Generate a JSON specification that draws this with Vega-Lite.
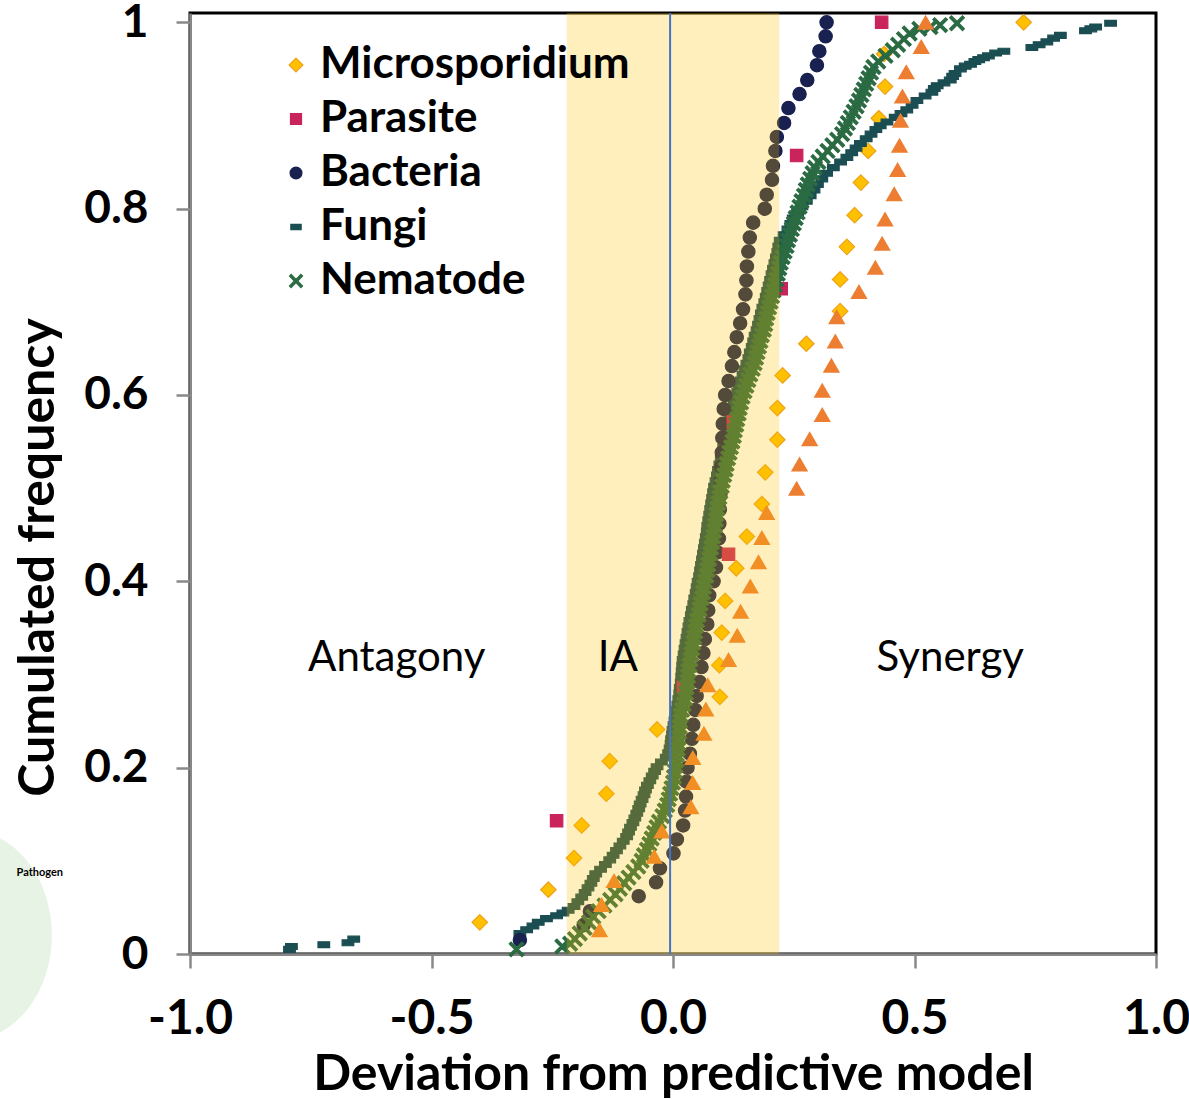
{
  "$schema": "https://vega.github.io/schema/vega-lite/v6.json",
  "width": 966,
  "height": 941,
  "autosize": {"type": "none"},
  "padding": {"left": 190, "top": 13, "right": 33, "bottom": 145},
  "background": "white",
  "config": {
    "font": "Lato",
    "view": {"stroke": "black", "strokeWidth": 3},
    "axis": {"grid": false, "domainColor": "#898989", "domainWidth": 2.5, "tickColor": "#898989", "tickWidth": 2.5, "tickSize": 14, "labelColor": "black", "labelFontWeight": "bold", "labelFontSize": 48, "titleColor": "black", "titleFontWeight": "bold", "titleFontSize": 50},
    "legend": {"orient": "none", "legendX": 84, "legendY": 30, "padding": 0, "labelFontSize": 44, "labelFontWeight": "bold", "labelColor": "black", "labelLimit": 0, "symbolSize": 190, "rowPadding": 10, "labelOffset": 2, "symbolStrokeWidth": 1.2}
  },
  "layer": [
    {
      "data": {"values": [{"x": -1.46, "y": 0.02}]},
      "mark": {"type": "point", "shape": "M-0.8,0A0.8,1 0 1,0 0.8,0A0.8,1 0 1,0 -0.8,0Z", "filled": true, "size": 44100, "color": "#E7F3E5", "opacity": 1},
      "encoding": {"x": {"field": "x", "type": "quantitative"}, "y": {"field": "y", "type": "quantitative"}}
    },
    {
      "data": {"values": [{"t": "Pathogen", "x": -1.311, "y": 0.0872}]},
      "mark": {"type": "text", "fontSize": 11, "fontWeight": "bold", "color": "black", "align": "center", "baseline": "middle"},
      "encoding": {"x": {"field": "x", "type": "quantitative"}, "y": {"field": "y", "type": "quantitative"}, "text": {"field": "t"}}
    },
    {
      "data": {"values": [
        {"s":"Microsporidium","x":-0.400,"y":0.034},{"s":"Microsporidium","x":-0.258,"y":0.069},{"s":"Microsporidium","x":-0.205,"y":0.103},{"s":"Microsporidium","x":-0.189,"y":0.138},{"s":"Microsporidium","x":-0.138,"y":0.172},{"s":"Microsporidium","x":-0.131,"y":0.207},{"s":"Microsporidium","x":-0.033,"y":0.241},{"s":"Microsporidium","x":0.097,"y":0.276},{"s":"Microsporidium","x":0.096,"y":0.310},{"s":"Microsporidium","x":0.101,"y":0.345},{"s":"Microsporidium","x":0.108,"y":0.379},{"s":"Microsporidium","x":0.131,"y":0.414},{"s":"Microsporidium","x":0.153,"y":0.448},{"s":"Microsporidium","x":0.184,"y":0.483},{"s":"Microsporidium","x":0.191,"y":0.517},{"s":"Microsporidium","x":0.216,"y":0.552},{"s":"Microsporidium","x":0.216,"y":0.586},{"s":"Microsporidium","x":0.227,"y":0.621},{"s":"Microsporidium","x":0.276,"y":0.655},{"s":"Microsporidium","x":0.346,"y":0.690},{"s":"Microsporidium","x":0.346,"y":0.724},{"s":"Microsporidium","x":0.360,"y":0.759},{"s":"Microsporidium","x":0.376,"y":0.793},{"s":"Microsporidium","x":0.389,"y":0.828},{"s":"Microsporidium","x":0.404,"y":0.862},{"s":"Microsporidium","x":0.426,"y":0.897},{"s":"Microsporidium","x":0.439,"y":0.931},{"s":"Microsporidium","x":0.437,"y":0.966},{"s":"Microsporidium","x":0.726,"y":1.0},
        {"s":"Fungi","x":-0.794,"y":0.005},{"s":"Fungi","x":-0.790,"y":0.008},{"s":"Fungi","x":-0.723,"y":0.010},{"s":"Fungi","x":-0.673,"y":0.012},{"s":"Fungi","x":-0.661,"y":0.016},{"s":"Fungi","x":-0.317,"y":0.022},{"s":"Fungi","x":-0.303,"y":0.026},{"s":"Fungi","x":-0.290,"y":0.030},{"s":"Fungi","x":-0.279,"y":0.034},{"s":"Fungi","x":-0.262,"y":0.038},{"s":"Fungi","x":-0.241,"y":0.041},{"s":"Fungi","x":-0.228,"y":0.044},{"s":"Fungi","x":-0.217,"y":0.047},{"s":"Fungi","x":-0.205,"y":0.051},{"s":"Fungi","x":-0.197,"y":0.056},{"s":"Fungi","x":-0.189,"y":0.061},{"s":"Fungi","x":-0.182,"y":0.066},{"s":"Fungi","x":-0.176,"y":0.071},{"s":"Fungi","x":-0.170,"y":0.076},{"s":"Fungi","x":-0.165,"y":0.081},{"s":"Fungi","x":-0.160,"y":0.086},{"s":"Fungi","x":-0.150,"y":0.091},{"s":"Fungi","x":-0.140,"y":0.096},{"s":"Fungi","x":-0.131,"y":0.101},{"s":"Fungi","x":-0.124,"y":0.106},{"s":"Fungi","x":-0.117,"y":0.111},{"s":"Fungi","x":-0.110,"y":0.116},{"s":"Fungi","x":-0.103,"y":0.121},{"s":"Fungi","x":-0.096,"y":0.126},{"s":"Fungi","x":-0.092,"y":0.131},{"s":"Fungi","x":-0.088,"y":0.136},{"s":"Fungi","x":-0.083,"y":0.141},{"s":"Fungi","x":-0.079,"y":0.146},{"s":"Fungi","x":-0.075,"y":0.151},{"s":"Fungi","x":-0.071,"y":0.156},{"s":"Fungi","x":-0.068,"y":0.161},{"s":"Fungi","x":-0.064,"y":0.166},{"s":"Fungi","x":-0.060,"y":0.171},{"s":"Fungi","x":-0.057,"y":0.176},{"s":"Fungi","x":-0.053,"y":0.181},{"s":"Fungi","x":-0.048,"y":0.186},{"s":"Fungi","x":-0.043,"y":0.191},{"s":"Fungi","x":-0.038,"y":0.196},{"s":"Fungi","x":-0.033,"y":0.201},{"s":"Fungi","x":-0.024,"y":0.206},{"s":"Fungi","x":-0.014,"y":0.211},{"s":"Fungi","x":-0.009,"y":0.216},{"s":"Fungi","x":-0.006,"y":0.221},{"s":"Fungi","x":-0.004,"y":0.226},{"s":"Fungi","x":-0.003,"y":0.231},{"s":"Fungi","x":-0.001,"y":0.236},{"s":"Fungi","x":0.000,"y":0.241},{"s":"Fungi","x":0.002,"y":0.246},{"s":"Fungi","x":0.004,"y":0.251},{"s":"Fungi","x":0.006,"y":0.256},{"s":"Fungi","x":0.008,"y":0.262},{"s":"Fungi","x":0.010,"y":0.268},{"s":"Fungi","x":0.012,"y":0.274},{"s":"Fungi","x":0.014,"y":0.280},{"s":"Fungi","x":0.015,"y":0.286},{"s":"Fungi","x":0.017,"y":0.292},{"s":"Fungi","x":0.018,"y":0.298},{"s":"Fungi","x":0.019,"y":0.304},{"s":"Fungi","x":0.020,"y":0.310},{"s":"Fungi","x":0.021,"y":0.316},{"s":"Fungi","x":0.023,"y":0.322},{"s":"Fungi","x":0.025,"y":0.328},{"s":"Fungi","x":0.027,"y":0.334},{"s":"Fungi","x":0.029,"y":0.340},{"s":"Fungi","x":0.031,"y":0.346},{"s":"Fungi","x":0.033,"y":0.352},{"s":"Fungi","x":0.035,"y":0.358},{"s":"Fungi","x":0.038,"y":0.364},{"s":"Fungi","x":0.040,"y":0.370},{"s":"Fungi","x":0.043,"y":0.376},{"s":"Fungi","x":0.045,"y":0.382},{"s":"Fungi","x":0.048,"y":0.388},{"s":"Fungi","x":0.050,"y":0.394},{"s":"Fungi","x":0.052,"y":0.400},{"s":"Fungi","x":0.055,"y":0.406},{"s":"Fungi","x":0.057,"y":0.412},{"s":"Fungi","x":0.059,"y":0.418},{"s":"Fungi","x":0.061,"y":0.424},{"s":"Fungi","x":0.063,"y":0.430},{"s":"Fungi","x":0.065,"y":0.436},{"s":"Fungi","x":0.067,"y":0.442},{"s":"Fungi","x":0.069,"y":0.448},{"s":"Fungi","x":0.071,"y":0.454},{"s":"Fungi","x":0.072,"y":0.460},{"s":"Fungi","x":0.074,"y":0.466},{"s":"Fungi","x":0.076,"y":0.472},{"s":"Fungi","x":0.078,"y":0.478},{"s":"Fungi","x":0.080,"y":0.484},{"s":"Fungi","x":0.082,"y":0.490},{"s":"Fungi","x":0.084,"y":0.496},{"s":"Fungi","x":0.086,"y":0.502},{"s":"Fungi","x":0.089,"y":0.508},{"s":"Fungi","x":0.092,"y":0.514},{"s":"Fungi","x":0.094,"y":0.520},{"s":"Fungi","x":0.097,"y":0.526},{"s":"Fungi","x":0.100,"y":0.532},{"s":"Fungi","x":0.102,"y":0.538},{"s":"Fungi","x":0.105,"y":0.544},{"s":"Fungi","x":0.108,"y":0.550},{"s":"Fungi","x":0.111,"y":0.556},{"s":"Fungi","x":0.114,"y":0.562},{"s":"Fungi","x":0.116,"y":0.568},{"s":"Fungi","x":0.119,"y":0.574},{"s":"Fungi","x":0.122,"y":0.580},{"s":"Fungi","x":0.124,"y":0.586},{"s":"Fungi","x":0.127,"y":0.592},{"s":"Fungi","x":0.130,"y":0.598},{"s":"Fungi","x":0.134,"y":0.604},{"s":"Fungi","x":0.137,"y":0.610},{"s":"Fungi","x":0.141,"y":0.616},{"s":"Fungi","x":0.145,"y":0.622},{"s":"Fungi","x":0.149,"y":0.628},{"s":"Fungi","x":0.153,"y":0.634},{"s":"Fungi","x":0.157,"y":0.640},{"s":"Fungi","x":0.160,"y":0.646},{"s":"Fungi","x":0.164,"y":0.652},{"s":"Fungi","x":0.167,"y":0.658},{"s":"Fungi","x":0.170,"y":0.664},{"s":"Fungi","x":0.174,"y":0.670},{"s":"Fungi","x":0.177,"y":0.676},{"s":"Fungi","x":0.180,"y":0.682},{"s":"Fungi","x":0.183,"y":0.688},{"s":"Fungi","x":0.186,"y":0.694},{"s":"Fungi","x":0.190,"y":0.700},{"s":"Fungi","x":0.193,"y":0.706},{"s":"Fungi","x":0.196,"y":0.712},{"s":"Fungi","x":0.199,"y":0.718},{"s":"Fungi","x":0.202,"y":0.724},{"s":"Fungi","x":0.205,"y":0.730},{"s":"Fungi","x":0.208,"y":0.736},{"s":"Fungi","x":0.211,"y":0.742},{"s":"Fungi","x":0.214,"y":0.748},{"s":"Fungi","x":0.217,"y":0.754},{"s":"Fungi","x":0.219,"y":0.760},{"s":"Fungi","x":0.222,"y":0.766},{"s":"Fungi","x":0.230,"y":0.772},{"s":"Fungi","x":0.238,"y":0.778},{"s":"Fungi","x":0.244,"y":0.784},{"s":"Fungi","x":0.249,"y":0.790},{"s":"Fungi","x":0.258,"y":0.796},{"s":"Fungi","x":0.267,"y":0.802},{"s":"Fungi","x":0.276,"y":0.808},{"s":"Fungi","x":0.284,"y":0.814},{"s":"Fungi","x":0.292,"y":0.820},{"s":"Fungi","x":0.299,"y":0.826},{"s":"Fungi","x":0.308,"y":0.832},{"s":"Fungi","x":0.318,"y":0.838},{"s":"Fungi","x":0.332,"y":0.844},{"s":"Fungi","x":0.347,"y":0.850},{"s":"Fungi","x":0.360,"y":0.855},{"s":"Fungi","x":0.370,"y":0.860},{"s":"Fungi","x":0.379,"y":0.865},{"s":"Fungi","x":0.388,"y":0.870},{"s":"Fungi","x":0.400,"y":0.875},{"s":"Fungi","x":0.410,"y":0.880},{"s":"Fungi","x":0.420,"y":0.885},{"s":"Fungi","x":0.429,"y":0.889},{"s":"Fungi","x":0.443,"y":0.893},{"s":"Fungi","x":0.460,"y":0.898},{"s":"Fungi","x":0.472,"y":0.902},{"s":"Fungi","x":0.484,"y":0.906},{"s":"Fungi","x":0.495,"y":0.911},{"s":"Fungi","x":0.505,"y":0.916},{"s":"Fungi","x":0.522,"y":0.921},{"s":"Fungi","x":0.536,"y":0.925},{"s":"Fungi","x":0.541,"y":0.929},{"s":"Fungi","x":0.547,"y":0.932},{"s":"Fungi","x":0.561,"y":0.935},{"s":"Fungi","x":0.574,"y":0.938},{"s":"Fungi","x":0.579,"y":0.942},{"s":"Fungi","x":0.584,"y":0.945},{"s":"Fungi","x":0.595,"y":0.950},{"s":"Fungi","x":0.605,"y":0.953},{"s":"Fungi","x":0.616,"y":0.955},{"s":"Fungi","x":0.625,"y":0.958},{"s":"Fungi","x":0.633,"y":0.960},{"s":"Fungi","x":0.643,"y":0.962},{"s":"Fungi","x":0.653,"y":0.964},{"s":"Fungi","x":0.668,"y":0.967},{"s":"Fungi","x":0.685,"y":0.969},{"s":"Fungi","x":0.743,"y":0.973},{"s":"Fungi","x":0.758,"y":0.976},{"s":"Fungi","x":0.774,"y":0.979},{"s":"Fungi","x":0.788,"y":0.983},{"s":"Fungi","x":0.802,"y":0.986},{"s":"Fungi","x":0.854,"y":0.991},{"s":"Fungi","x":0.865,"y":0.993},{"s":"Fungi","x":0.875,"y":0.995},{"s":"Fungi","x":0.906,"y":0.999},
        {"s":"Bacteria","x":-0.317,"y":0.015},{"s":"Bacteria","x":-0.185,"y":0.031},{"s":"Bacteria","x":-0.172,"y":0.046},{"s":"Bacteria","x":-0.071,"y":0.062},{"s":"Bacteria","x":-0.035,"y":0.077},{"s":"Bacteria","x":-0.027,"y":0.092},{"s":"Bacteria","x":0.001,"y":0.108},{"s":"Bacteria","x":0.008,"y":0.123},{"s":"Bacteria","x":0.021,"y":0.138},{"s":"Bacteria","x":0.025,"y":0.154},{"s":"Bacteria","x":0.027,"y":0.169},{"s":"Bacteria","x":0.028,"y":0.185},{"s":"Bacteria","x":0.030,"y":0.200},{"s":"Bacteria","x":0.035,"y":0.215},{"s":"Bacteria","x":0.039,"y":0.231},{"s":"Bacteria","x":0.042,"y":0.246},{"s":"Bacteria","x":0.046,"y":0.262},{"s":"Bacteria","x":0.049,"y":0.277},{"s":"Bacteria","x":0.055,"y":0.292},{"s":"Bacteria","x":0.059,"y":0.308},{"s":"Bacteria","x":0.063,"y":0.323},{"s":"Bacteria","x":0.066,"y":0.338},{"s":"Bacteria","x":0.071,"y":0.354},{"s":"Bacteria","x":0.073,"y":0.369},{"s":"Bacteria","x":0.075,"y":0.385},{"s":"Bacteria","x":0.084,"y":0.400},{"s":"Bacteria","x":0.089,"y":0.415},{"s":"Bacteria","x":0.092,"y":0.431},{"s":"Bacteria","x":0.095,"y":0.446},{"s":"Bacteria","x":0.096,"y":0.462},{"s":"Bacteria","x":0.097,"y":0.477},{"s":"Bacteria","x":0.098,"y":0.492},{"s":"Bacteria","x":0.099,"y":0.508},{"s":"Bacteria","x":0.100,"y":0.523},{"s":"Bacteria","x":0.101,"y":0.538},{"s":"Bacteria","x":0.102,"y":0.554},{"s":"Bacteria","x":0.103,"y":0.569},{"s":"Bacteria","x":0.105,"y":0.585},{"s":"Bacteria","x":0.108,"y":0.600},{"s":"Bacteria","x":0.115,"y":0.615},{"s":"Bacteria","x":0.122,"y":0.631},{"s":"Bacteria","x":0.127,"y":0.646},{"s":"Bacteria","x":0.132,"y":0.662},{"s":"Bacteria","x":0.139,"y":0.677},{"s":"Bacteria","x":0.145,"y":0.692},{"s":"Bacteria","x":0.150,"y":0.708},{"s":"Bacteria","x":0.152,"y":0.723},{"s":"Bacteria","x":0.153,"y":0.738},{"s":"Bacteria","x":0.156,"y":0.754},{"s":"Bacteria","x":0.159,"y":0.769},{"s":"Bacteria","x":0.166,"y":0.785},{"s":"Bacteria","x":0.190,"y":0.800},{"s":"Bacteria","x":0.194,"y":0.815},{"s":"Bacteria","x":0.205,"y":0.831},{"s":"Bacteria","x":0.207,"y":0.846},{"s":"Bacteria","x":0.212,"y":0.862},{"s":"Bacteria","x":0.215,"y":0.877},{"s":"Bacteria","x":0.230,"y":0.892},{"s":"Bacteria","x":0.239,"y":0.908},{"s":"Bacteria","x":0.262,"y":0.923},{"s":"Bacteria","x":0.278,"y":0.938},{"s":"Bacteria","x":0.298,"y":0.954},{"s":"Bacteria","x":0.303,"y":0.969},{"s":"Bacteria","x":0.316,"y":0.985},{"s":"Bacteria","x":0.318,"y":1.0},
        {"s":"Parasite","x":-0.241,"y":0.143},{"s":"Parasite","x":0.022,"y":0.286},{"s":"Parasite","x":0.115,"y":0.429},{"s":"Parasite","x":0.125,"y":0.571},{"s":"Parasite","x":0.224,"y":0.714},{"s":"Parasite","x":0.256,"y":0.857},{"s":"Parasite","x":0.432,"y":1.0},
        {"s":"Nematode","x":-0.324,"y":0.005},{"s":"Nematode","x":-0.229,"y":0.008},{"s":"Nematode","x":-0.213,"y":0.011},{"s":"Nematode","x":-0.203,"y":0.016},{"s":"Nematode","x":-0.193,"y":0.022},{"s":"Nematode","x":-0.183,"y":0.028},{"s":"Nematode","x":-0.174,"y":0.034},{"s":"Nematode","x":-0.165,"y":0.040},{"s":"Nematode","x":-0.154,"y":0.046},{"s":"Nematode","x":-0.142,"y":0.052},{"s":"Nematode","x":-0.130,"y":0.058},{"s":"Nematode","x":-0.119,"y":0.064},{"s":"Nematode","x":-0.110,"y":0.070},{"s":"Nematode","x":-0.101,"y":0.076},{"s":"Nematode","x":-0.092,"y":0.082},{"s":"Nematode","x":-0.082,"y":0.088},{"s":"Nematode","x":-0.072,"y":0.094},{"s":"Nematode","x":-0.065,"y":0.100},{"s":"Nematode","x":-0.060,"y":0.106},{"s":"Nematode","x":-0.054,"y":0.112},{"s":"Nematode","x":-0.049,"y":0.118},{"s":"Nematode","x":-0.044,"y":0.124},{"s":"Nematode","x":-0.039,"y":0.130},{"s":"Nematode","x":-0.034,"y":0.136},{"s":"Nematode","x":-0.029,"y":0.142},{"s":"Nematode","x":-0.022,"y":0.148},{"s":"Nematode","x":-0.017,"y":0.154},{"s":"Nematode","x":-0.012,"y":0.160},{"s":"Nematode","x":-0.009,"y":0.166},{"s":"Nematode","x":-0.006,"y":0.172},{"s":"Nematode","x":-0.003,"y":0.178},{"s":"Nematode","x":0.000,"y":0.184},{"s":"Nematode","x":0.002,"y":0.190},{"s":"Nematode","x":0.004,"y":0.196},{"s":"Nematode","x":0.005,"y":0.202},{"s":"Nematode","x":0.007,"y":0.208},{"s":"Nematode","x":0.008,"y":0.214},{"s":"Nematode","x":0.010,"y":0.220},{"s":"Nematode","x":0.011,"y":0.226},{"s":"Nematode","x":0.012,"y":0.232},{"s":"Nematode","x":0.013,"y":0.238},{"s":"Nematode","x":0.014,"y":0.244},{"s":"Nematode","x":0.015,"y":0.250},{"s":"Nematode","x":0.016,"y":0.256},{"s":"Nematode","x":0.019,"y":0.262},{"s":"Nematode","x":0.022,"y":0.268},{"s":"Nematode","x":0.025,"y":0.274},{"s":"Nematode","x":0.027,"y":0.280},{"s":"Nematode","x":0.028,"y":0.286},{"s":"Nematode","x":0.030,"y":0.292},{"s":"Nematode","x":0.031,"y":0.298},{"s":"Nematode","x":0.032,"y":0.304},{"s":"Nematode","x":0.034,"y":0.310},{"s":"Nematode","x":0.036,"y":0.316},{"s":"Nematode","x":0.038,"y":0.322},{"s":"Nematode","x":0.040,"y":0.328},{"s":"Nematode","x":0.042,"y":0.334},{"s":"Nematode","x":0.044,"y":0.340},{"s":"Nematode","x":0.046,"y":0.346},{"s":"Nematode","x":0.048,"y":0.352},{"s":"Nematode","x":0.050,"y":0.358},{"s":"Nematode","x":0.053,"y":0.364},{"s":"Nematode","x":0.055,"y":0.370},{"s":"Nematode","x":0.057,"y":0.376},{"s":"Nematode","x":0.060,"y":0.382},{"s":"Nematode","x":0.062,"y":0.388},{"s":"Nematode","x":0.064,"y":0.394},{"s":"Nematode","x":0.066,"y":0.400},{"s":"Nematode","x":0.069,"y":0.406},{"s":"Nematode","x":0.071,"y":0.412},{"s":"Nematode","x":0.073,"y":0.418},{"s":"Nematode","x":0.075,"y":0.424},{"s":"Nematode","x":0.077,"y":0.430},{"s":"Nematode","x":0.079,"y":0.436},{"s":"Nematode","x":0.081,"y":0.442},{"s":"Nematode","x":0.083,"y":0.448},{"s":"Nematode","x":0.085,"y":0.454},{"s":"Nematode","x":0.087,"y":0.460},{"s":"Nematode","x":0.089,"y":0.466},{"s":"Nematode","x":0.090,"y":0.472},{"s":"Nematode","x":0.092,"y":0.478},{"s":"Nematode","x":0.094,"y":0.484},{"s":"Nematode","x":0.096,"y":0.490},{"s":"Nematode","x":0.098,"y":0.496},{"s":"Nematode","x":0.101,"y":0.502},{"s":"Nematode","x":0.103,"y":0.508},{"s":"Nematode","x":0.106,"y":0.514},{"s":"Nematode","x":0.109,"y":0.520},{"s":"Nematode","x":0.111,"y":0.526},{"s":"Nematode","x":0.114,"y":0.532},{"s":"Nematode","x":0.117,"y":0.538},{"s":"Nematode","x":0.120,"y":0.544},{"s":"Nematode","x":0.123,"y":0.550},{"s":"Nematode","x":0.126,"y":0.556},{"s":"Nematode","x":0.128,"y":0.562},{"s":"Nematode","x":0.131,"y":0.568},{"s":"Nematode","x":0.133,"y":0.574},{"s":"Nematode","x":0.136,"y":0.580},{"s":"Nematode","x":0.138,"y":0.586},{"s":"Nematode","x":0.141,"y":0.592},{"s":"Nematode","x":0.144,"y":0.598},{"s":"Nematode","x":0.148,"y":0.604},{"s":"Nematode","x":0.152,"y":0.610},{"s":"Nematode","x":0.156,"y":0.616},{"s":"Nematode","x":0.160,"y":0.622},{"s":"Nematode","x":0.165,"y":0.628},{"s":"Nematode","x":0.169,"y":0.634},{"s":"Nematode","x":0.172,"y":0.640},{"s":"Nematode","x":0.175,"y":0.646},{"s":"Nematode","x":0.178,"y":0.652},{"s":"Nematode","x":0.181,"y":0.658},{"s":"Nematode","x":0.184,"y":0.664},{"s":"Nematode","x":0.188,"y":0.670},{"s":"Nematode","x":0.191,"y":0.676},{"s":"Nematode","x":0.193,"y":0.682},{"s":"Nematode","x":0.196,"y":0.688},{"s":"Nematode","x":0.199,"y":0.694},{"s":"Nematode","x":0.202,"y":0.700},{"s":"Nematode","x":0.205,"y":0.706},{"s":"Nematode","x":0.208,"y":0.712},{"s":"Nematode","x":0.211,"y":0.718},{"s":"Nematode","x":0.214,"y":0.724},{"s":"Nematode","x":0.217,"y":0.730},{"s":"Nematode","x":0.220,"y":0.736},{"s":"Nematode","x":0.223,"y":0.742},{"s":"Nematode","x":0.227,"y":0.748},{"s":"Nematode","x":0.231,"y":0.754},{"s":"Nematode","x":0.235,"y":0.760},{"s":"Nematode","x":0.238,"y":0.766},{"s":"Nematode","x":0.242,"y":0.772},{"s":"Nematode","x":0.246,"y":0.778},{"s":"Nematode","x":0.250,"y":0.784},{"s":"Nematode","x":0.254,"y":0.790},{"s":"Nematode","x":0.258,"y":0.796},{"s":"Nematode","x":0.262,"y":0.802},{"s":"Nematode","x":0.266,"y":0.808},{"s":"Nematode","x":0.271,"y":0.814},{"s":"Nematode","x":0.275,"y":0.820},{"s":"Nematode","x":0.279,"y":0.826},{"s":"Nematode","x":0.284,"y":0.832},{"s":"Nematode","x":0.289,"y":0.838},{"s":"Nematode","x":0.294,"y":0.844},{"s":"Nematode","x":0.301,"y":0.850},{"s":"Nematode","x":0.310,"y":0.856},{"s":"Nematode","x":0.320,"y":0.862},{"s":"Nematode","x":0.330,"y":0.868},{"s":"Nematode","x":0.340,"y":0.874},{"s":"Nematode","x":0.350,"y":0.880},{"s":"Nematode","x":0.356,"y":0.886},{"s":"Nematode","x":0.362,"y":0.892},{"s":"Nematode","x":0.368,"y":0.898},{"s":"Nematode","x":0.374,"y":0.904},{"s":"Nematode","x":0.380,"y":0.910},{"s":"Nematode","x":0.385,"y":0.916},{"s":"Nematode","x":0.390,"y":0.922},{"s":"Nematode","x":0.395,"y":0.928},{"s":"Nematode","x":0.400,"y":0.934},{"s":"Nematode","x":0.405,"y":0.940},{"s":"Nematode","x":0.410,"y":0.946},{"s":"Nematode","x":0.415,"y":0.952},{"s":"Nematode","x":0.425,"y":0.958},{"s":"Nematode","x":0.440,"y":0.964},{"s":"Nematode","x":0.455,"y":0.970},{"s":"Nematode","x":0.466,"y":0.976},{"s":"Nematode","x":0.478,"y":0.982},{"s":"Nematode","x":0.490,"y":0.988},{"s":"Nematode","x":0.510,"y":0.993},{"s":"Nematode","x":0.533,"y":0.995},{"s":"Nematode","x":0.553,"y":0.997},{"s":"Nematode","x":0.588,"y":0.999}
      ]},
      "mark": {"type": "point", "filled": true, "opacity": 1, "strokeWidth": 1.2, "size": 240},
      "encoding": {
        "x": {"field": "x", "type": "quantitative", "scale": {"domain": [-1, 1], "nice": false, "zero": false},
          "axis": {"values": [-1, -0.5, 0, 0.5, 1], "labelFlush": false, "labelExpr": "datum.value < 0 ? '-' + format(-datum.value, '.1f') : format(datum.value, '.1f')", "labelPadding": 27, "title": "Deviation from predictive model", "titlePadding": 6}},
        "y": {"field": "y", "type": "quantitative", "scale": {"domain": [0, 1.01], "nice": false, "zero": false},
          "axis": {"values": [0, 0.2, 0.4, 0.6, 0.8, 1], "labelFlush": false, "labelFontSize": 46, "labelExpr": "datum.value == 0 ? '0' : datum.value == 1 ? '1' : format(datum.value, '.1f')", "labelPadding": 28, "title": "Cumulated frequency", "titlePadding": 20, "titleY": 544}},
        "shape": {"field": "s", "type": "nominal", "title": null, "scale": {"domain": ["Microsporidium", "Parasite", "Bacteria", "Fungi", "Nematode"], "range": ["M0,-1L1,0L0,1L-1,0Z", "M-0.8,-0.8H0.8V0.8H-0.8Z", "M-0.86,0A0.86,0.86 0 1,0 0.86,0A0.86,0.86 0 1,0 -0.86,0Z", "M-0.75,-0.38H0.75V0.38H-0.75Z", "M-0.95,-0.71L-0.71,-0.95L0,-0.24L0.71,-0.95L0.95,-0.71L0.24,0L0.95,0.71L0.71,0.95L0,0.24L-0.71,0.95L-0.95,0.71L-0.24,0Z"]}},
        "fill": {"field": "s", "type": "nominal", "title": null, "scale": {"domain": ["Microsporidium", "Parasite", "Bacteria", "Fungi", "Nematode"], "range": ["#FFC000", "#C9245B", "#18214F", "#1B4E52", "#2B6B43"]}},
        "stroke": {"field": "s", "type": "nominal", "title": null, "scale": {"domain": ["Microsporidium", "Parasite", "Bacteria", "Fungi", "Nematode"], "range": ["#EDA21A", "#C9245B", "#18214F", "#1B4E52", "#2B6B43"]}}
      }
    },
    {
      "data": {"values": [
        {"x":-0.152,"y":0.026},{"x":-0.148,"y":0.053},{"x":-0.122,"y":0.079},{"x":-0.039,"y":0.105},{"x":-0.023,"y":0.132},{"x":0.037,"y":0.158},{"x":0.041,"y":0.184},{"x":0.041,"y":0.211},{"x":0.064,"y":0.237},{"x":0.068,"y":0.263},{"x":0.072,"y":0.289},{"x":0.115,"y":0.316},{"x":0.133,"y":0.342},{"x":0.140,"y":0.368},{"x":0.160,"y":0.395},{"x":0.177,"y":0.421},{"x":0.184,"y":0.447},{"x":0.194,"y":0.474},{"x":0.256,"y":0.500},{"x":0.262,"y":0.526},{"x":0.283,"y":0.553},{"x":0.309,"y":0.579},{"x":0.309,"y":0.605},{"x":0.328,"y":0.632},{"x":0.336,"y":0.658},{"x":0.339,"y":0.684},{"x":0.385,"y":0.711},{"x":0.419,"y":0.737},{"x":0.433,"y":0.763},{"x":0.439,"y":0.789},{"x":0.458,"y":0.816},{"x":0.465,"y":0.842},{"x":0.469,"y":0.868},{"x":0.471,"y":0.895},{"x":0.475,"y":0.921},{"x":0.483,"y":0.947},{"x":0.514,"y":0.974},{"x":0.523,"y":1.0}
      ]},
      "mark": {"type": "point", "shape": "triangle-up", "filled": true, "size": 300, "color": "#ED7D31", "opacity": 1},
      "encoding": {"x": {"field": "x", "type": "quantitative"}, "y": {"field": "y", "type": "quantitative"}}
    },
    {
      "data": {"values": [{"a": -0.22, "b": 0.22, "lo": 0, "hi": 1.01}]},
      "mark": {"type": "rect", "fill": "#FFC000", "opacity": 0.26},
      "encoding": {"x": {"field": "a", "type": "quantitative"}, "x2": {"field": "b"}, "y": {"field": "lo", "type": "quantitative"}, "y2": {"field": "hi"}}
    },
    {
      "data": {"values": [{"x": -0.006, "lo": 0, "hi": 1.01}]},
      "mark": {"type": "rule", "color": "#4472C4", "strokeWidth": 2},
      "encoding": {"x": {"field": "x", "type": "quantitative"}, "y": {"field": "lo", "type": "quantitative"}, "y2": {"field": "hi"}}
    },
    {
      "data": {"values": [{"t": "Antagony", "x": -0.572, "y": 0.318}, {"t": "IA", "x": -0.114, "y": 0.318}, {"t": "Synergy", "x": 0.574, "y": 0.318}]},
      "mark": {"type": "text", "fontSize": 42, "fontWeight": "normal", "color": "black", "align": "center", "baseline": "middle"},
      "encoding": {"x": {"field": "x", "type": "quantitative"}, "y": {"field": "y", "type": "quantitative"}, "text": {"field": "t"}}
    }
  ]
}
